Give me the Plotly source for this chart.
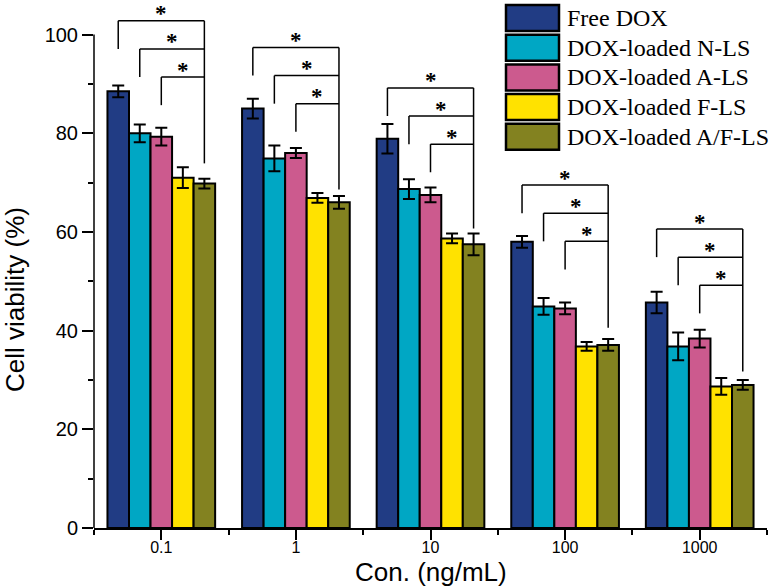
import plotly.graph_objs as go

# 浓度分组
groups = ["0.1", "1", "10", "100", "1000"]

# 各组细胞存活率 (%) 及误差
free_dox = [88.5, 85.0, 78.9, 58.0, 45.7]
free_dox_err = [1.2, 2.0, 3.0, 1.2, 2.2]
n_ls = [80.0, 74.9, 68.7, 44.9, 36.8]
n_ls_err = [1.8, 2.6, 2.0, 1.7, 2.8]
a_ls = [79.3, 76.0, 67.5, 44.5, 38.4]
a_ls_err = [1.8, 1.0, 1.5, 1.2, 1.8]
f_ls = [71.0, 66.9, 58.7, 36.8, 28.7]
f_ls_err = [2.1, 1.0, 1.0, 0.9, 1.7]
af_ls = [69.8, 66.0, 57.5, 37.1, 29.0]
af_ls_err = [1.0, 1.3, 2.2, 1.2, 1.0]

names = ["Free DOX", "DOX-loaded N-LS", "DOX-loaded A-LS",
         "DOX-loaded F-LS", "DOX-loaded A/F-LS"]
colors = ["#213c84", "#00a7c4", "#cc5a8e", "#ffe200", "#838220"]

# 显著性标记: 最上层括号高度, 右侧竖线下端
bracket_top = [102.8, 97.4, 89.2, 69.5, 60.6]
bracket_right_bottom = [73.9, 68.6, 60.7, 40.6, 31.7]
bracket_step = 5.7

values = [free_dox, n_ls, a_ls, f_ls, af_ls]
errors = [free_dox_err, n_ls_err, a_ls_err, f_ls_err, af_ls_err]

# 画布像素 -> paper 坐标
W, H = 771, 587
ML, MR, MT, MB = 94, 4, 5, 59
PW, PH = W - ML - MR, H - MT - MB


def px(x):
    return (x - ML) / PW


def py(y):
    return (H - MB - y) / PH


xs = list(range(len(groups)))
data = []
for name, vals, err, col in zip(names, values, errors, colors):
    data.append(go.Bar(
        x=xs, y=vals, name=name,
        marker=dict(color=col, line=dict(color="black", width=2)),
        error_y=dict(type="data", array=err, color="black", thickness=2, width=6),
        showlegend=False))

shapes = []
annotations = []
n = len(names)
bw = 0.8 / n
line = dict(color="black", width=1.5)
for i in xs:
    centers = [i - 0.4 + bw / 2 + bw * j for j in range(n)]
    right = centers[-1]
    top = bracket_top[i]
    # 右侧公共竖线
    shapes.append(dict(type="line", xref="x", yref="y", x0=right, x1=right,
                       y0=top, y1=bracket_right_bottom[i], line=line))
    for k in range(3):
        lvl = top - k * bracket_step
        left = centers[k]
        shapes.append(dict(type="line", xref="x", yref="y", x0=left, x1=right,
                           y0=lvl, y1=lvl, line=line))
        shapes.append(dict(type="line", xref="x", yref="y", x0=left, x1=left,
                           y0=lvl, y1=lvl - bracket_step, line=line))
        annotations.append(dict(x=(left + right) / 2, y=lvl, xref="x", yref="y",
                                text="<b>*</b>", showarrow=False, yanchor="middle", yshift=7,
                                font=dict(family="Liberation Serif", size=23, color="black")))

# y轴线只画到100
shapes.append(dict(type="line", xref="paper", yref="y", x0=0, x1=0, y0=0, y1=100,
                   line=dict(color="black", width=1.5)))

# 自定义图例
for j, (name, col) in enumerate(zip(names, colors)):
    top_px = 5 + j * 29.7
    shapes.append(dict(type="rect", xref="paper", yref="paper",
                       x0=px(506), x1=px(559), y0=py(top_px + 26), y1=py(top_px),
                       fillcolor=col, line=dict(color="black", width=2.5)))
    annotations.append(dict(x=px(565), y=py(top_px + 13), xref="paper", yref="paper",
                            text=name, showarrow=False, xanchor="left", yanchor="middle",
                            font=dict(family="Liberation Serif", size=24, color="black")))

# 坐标轴标题
annotations.append(dict(x=px(15), y=py(300), xref="paper", yref="paper",
                        text="Cell viability (%)", textangle=-90, showarrow=False,
                        xanchor="center", yanchor="middle",
                        font=dict(family="Liberation Sans", size=26, color="black")))
annotations.append(dict(x=0.5, y=py(572), xref="paper", yref="paper",
                        text="Con. (ng/mL)", showarrow=False, yanchor="middle",
                        font=dict(family="Liberation Sans", size=26, color="black")))

layout = dict(
    width=W, height=H,
    margin=dict(l=ML, r=MR, t=MT, b=MB),
    paper_bgcolor="white", plot_bgcolor="white",
    barmode="group", bargap=0.2, bargroupgap=0,
    xaxis=dict(range=[-0.5, 4.5], tickmode="array", tickvals=xs, ticktext=groups,
               ticks="outside", ticklen=10, tickwidth=1.5, tickcolor="black",
               ticklabelstandoff=-6,
               showline=True, linecolor="black", linewidth=1.5, showgrid=False,
               zeroline=False,
               tickfont=dict(family="Liberation Sans", size=16, color="black"),
               minor=dict(tickmode="array", tickvals=[x + 0.5 for x in [-1] + xs],
                          ticks="outside", ticklen=5, tickwidth=1.5,
                          tickcolor="black", showgrid=False)),
    yaxis=dict(range=[0, 106], tickmode="array", tickvals=[0, 20, 40, 60, 80, 100],
               ticks="outside", ticklen=11, tickwidth=1.5, tickcolor="black",
               showline=False, showgrid=False, zeroline=False,
               tickfont=dict(family="Liberation Sans", size=20, color="black"),
               minor=dict(tickmode="array", tickvals=[10, 30, 50, 70, 90],
                          ticks="outside", ticklen=5, tickwidth=1.5,
                          tickcolor="black", showgrid=False)),
    shapes=shapes, annotations=annotations,
)

fig = go.Figure(data=data, layout=layout)
# 去掉页面默认边距, 让图从左上角开始
fig.write_html("out.html", config={"displayModeBar": False},
               post_script="document.body.style.margin='0px';")
